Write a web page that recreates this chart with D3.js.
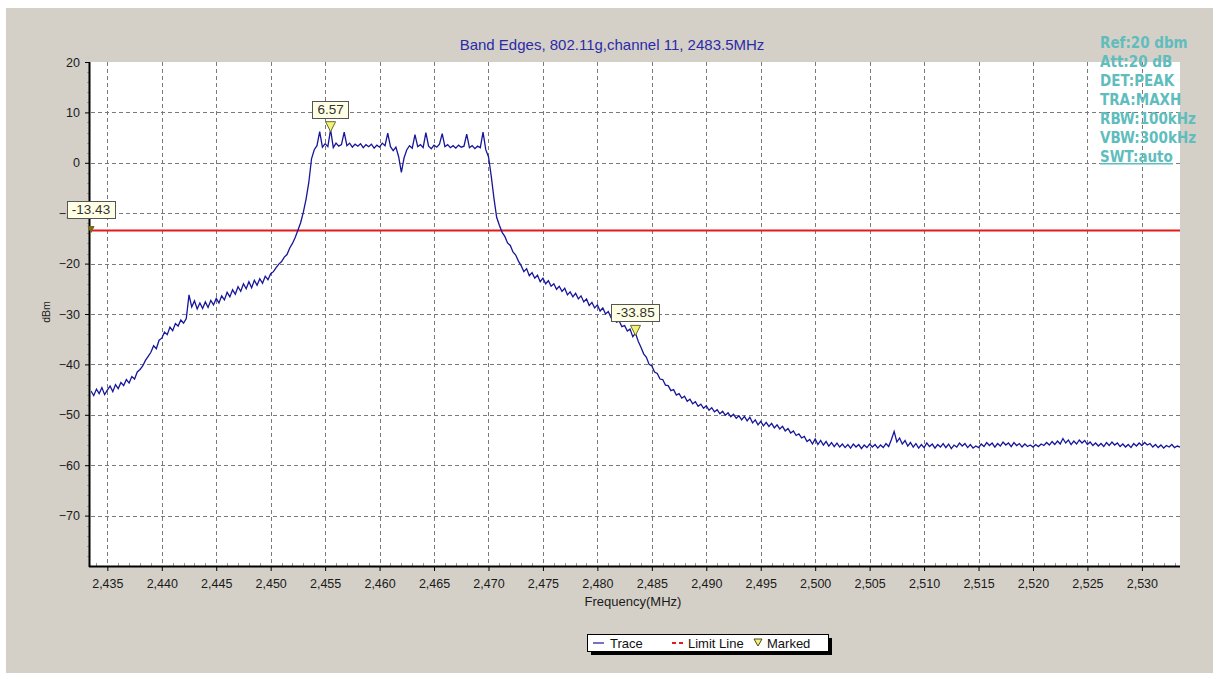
<!DOCTYPE html>
<html>
<head>
<meta charset="utf-8">
<script src="https://cdn.jsdelivr.net/npm/d3@7"></script>
<style>
  html, body { margin: 0; padding: 0; background: #ffffff; }
  svg { display: block; }
  text { font-family: "Liberation Sans", Arial, sans-serif; }
</style>
</head>
<body>
<svg id="chart" width="1216" height="679"></svg>
<script>
// ---------------- data ----------------
const chartTitle = "Band Edges, 802.11g,channel 11, 2483.5MHz";
const xTickValues = [2435, 2440, 2445, 2450, 2455, 2460, 2465, 2470, 2475, 2480, 2485, 2490, 2495, 2500, 2505, 2510, 2515, 2520, 2525, 2530];
const yTickValues = [20, 10, 0, -10, -20, -30, -40, -50, -60, -70];
const xDomain = [2433.5, 2533.5];
const yDomain = [-80, 20];
const limitLineDbm = -13.43;
const settingsLines = ["Ref:20 dbm", "Att:20 dB", "DET:PEAK", "TRA:MAXH", "RBW:100kHz", "VBW:300kHz", "SWT:auto"];

// sweep: start frequency and step (MHz) of the trace points
const traceStartMHz = 2433.5;
const traceStepMHz = 0.25;
const traceDbm = [
  -45.3,-46.2,-44.9,-45.8,-44.6,-46.0,-45.1,-44.3,-45.4,-44.0,-44.8,-43.6,-44.2,-43.0,-43.7,-42.4,-42.9,-41.5,-41.0,-40.3,
  -39.2,-38.4,-37.6,-36.3,-36.9,-35.2,-34.8,-33.6,-34.1,-32.6,-33.3,-31.9,-32.4,-31.2,-31.8,-30.9,-26.2,-28.6,-27.4,-29.0,
  -27.8,-28.9,-27.6,-28.7,-27.3,-28.2,-26.9,-27.8,-26.4,-27.2,-25.7,-26.6,-25.2,-26.1,-24.6,-25.5,-24.0,-25.0,-23.6,-24.8,
  -23.3,-24.3,-23.0,-23.9,-22.5,-23.2,-22.0,-21.6,-20.8,-20.1,-19.6,-18.7,-18.2,-16.9,-16.0,-14.8,-13.4,-11.9,-9.8,-7.2,
  -3.9,0.8,2.6,3.4,6.2,3.1,3.8,3.2,6.57,3.0,3.9,3.3,3.6,6.1,3.4,3.9,3.1,3.7,3.3,3.8,
  3.0,3.6,3.2,3.7,2.9,3.5,3.1,3.9,3.4,5.9,3.2,2.4,3.1,1.2,-1.9,1.0,2.6,3.4,2.9,5.6,
  3.2,3.6,3.0,6.0,3.3,2.8,3.5,3.1,3.7,5.8,3.2,3.6,3.0,3.4,2.9,3.5,3.1,3.3,5.7,3.0,
  3.4,2.8,3.3,3.0,6.1,2.6,1.2,-2.6,-7.0,-10.8,-12.4,-13.8,-14.6,-15.9,-16.4,-17.7,-18.3,-19.5,-20.4,-21.6,
  -21.0,-22.4,-21.8,-22.9,-22.3,-23.6,-22.9,-24.0,-23.4,-24.5,-24.0,-25.1,-24.5,-25.5,-24.9,-26.2,-25.6,-26.6,-25.9,-27.0,
  -26.4,-27.6,-27.0,-28.3,-27.7,-28.8,-28.2,-29.4,-28.8,-30.0,-29.5,-30.7,-30.3,-31.6,-31.4,-32.5,-32.3,-33.4,-33.0,-34.5,
  -33.85,-35.4,-36.6,-37.9,-38.6,-40.0,-40.3,-41.5,-41.8,-42.9,-43.0,-44.1,-44.2,-45.2,-45.0,-46.1,-45.8,-46.7,-46.3,-47.3,
  -46.9,-47.8,-47.4,-48.3,-47.9,-48.7,-48.2,-49.1,-48.6,-49.4,-49.0,-49.8,-49.3,-50.1,-49.6,-50.4,-49.9,-50.7,-50.2,-51.0,
  -50.3,-51.2,-50.5,-51.6,-51.0,-52.0,-51.3,-52.2,-51.5,-52.3,-51.7,-52.6,-52.0,-52.8,-52.3,-53.2,-52.7,-53.6,-53.2,-54.1,
  -53.8,-54.6,-54.3,-55.3,-54.9,-55.8,-54.8,-55.9,-55.1,-56.0,-55.3,-56.2,-55.5,-56.3,-55.6,-56.4,-55.8,-56.5,-55.9,-56.6,
  -55.8,-56.4,-55.9,-56.7,-56.0,-56.5,-55.8,-56.4,-55.9,-56.6,-56.0,-56.5,-55.7,-56.3,-54.9,-53.3,-55.4,-54.6,-55.8,-55.1,
  -56.2,-55.5,-56.4,-55.7,-56.6,-55.9,-56.5,-55.6,-56.3,-55.8,-56.6,-55.9,-56.4,-55.7,-56.5,-55.8,-56.7,-56.0,-56.4,-55.6,
  -56.2,-55.7,-56.5,-55.9,-56.6,-56.2,-56.5,-55.8,-56.3,-55.5,-56.1,-55.6,-56.4,-55.7,-56.2,-55.4,-56.0,-55.6,-56.3,-55.5,
  -56.1,-55.7,-56.4,-55.8,-56.3,-56.0,-56.4,-55.9,-56.3,-55.8,-56.1,-55.5,-56.0,-55.3,-55.9,-55.2,-55.8,-54.7,-55.6,-55.0,
  -55.9,-55.2,-55.8,-55.0,-55.6,-55.1,-55.9,-55.4,-56.1,-55.6,-56.2,-55.7,-56.3,-55.5,-56.1,-55.4,-56.0,-55.6,-56.3,-55.8,
  -56.4,-55.9,-56.5,-55.7,-56.2,-55.6,-56.1,-55.5,-56.0,-55.7,-56.4,-55.9,-56.5,-56.0,-56.6,-56.1,-56.4,-55.9,-56.5,-56.2,
  -56.4
];

// markers
const markerFreqs = [2433.5, 2455.5, 2483.5];
const markerValues = [-13.43, 6.57, -33.85];
const markerLabels = ["-13.43", "6.57", "-33.85"];

// legend
const legendLabels = ["Trace", "Limit Line", "Marked"];

// ---------------- drawing ----------------
const svg = d3.select("#chart");
const plot = { left: 91, right: 1180, top: 62, bottom: 566 };

const x = d3.scaleLinear().domain(xDomain).range([plot.left, plot.right]);
const y = d3.scaleLinear().domain(yDomain).range([plot.bottom, plot.top]);

const traceData = traceDbm.map((v, i) => ({ f: traceStartMHz + i * traceStepMHz, v }));

// background panel
svg.append("rect").attr("x", 6).attr("y", 8).attr("width", 1207).attr("height", 665).attr("fill", "#d4d0c8");
// plot area
svg.append("rect").attr("x", plot.left - 1).attr("y", plot.top).attr("width", plot.right - plot.left + 1)
  .attr("height", plot.bottom - plot.top).attr("fill", "#ffffff");

svg.append("defs").append("clipPath").attr("id", "clip")
  .append("rect").attr("x", plot.left).attr("y", plot.top).attr("width", plot.right - plot.left).attr("height", plot.bottom - plot.top);

// grid
const grid = svg.append("g");
grid.selectAll("line.vg").data(xTickValues).join("line")
  .attr("x1", d => Math.round(x(d)) + 0.5).attr("x2", d => Math.round(x(d)) + 0.5)
  .attr("y1", plot.top).attr("y2", plot.bottom)
  .attr("stroke", "#7a7a7a").attr("stroke-width", 1).attr("stroke-dasharray", "4,3");
grid.selectAll("line.hg").data(yTickValues.filter(d => d < 20)).join("line")
  .attr("x1", plot.left).attr("x2", plot.right)
  .attr("y1", d => Math.round(y(d)) + 0.5).attr("y2", d => Math.round(y(d)) + 0.5)
  .attr("stroke", "#7a7a7a").attr("stroke-width", 1).attr("stroke-dasharray", "4,3");

// minor ticks
const xMinor = d3.range(2434, 2534, 1).filter(d => d % 5 !== 0);
svg.append("g").selectAll("line").data(xMinor).join("line")
  .attr("x1", d => Math.round(x(d)) + 0.5).attr("x2", d => Math.round(x(d)) + 0.5)
  .attr("y1", plot.bottom - 3).attr("y2", plot.bottom)
  .attr("stroke", "#9a9a9a");
const yMinor = d3.range(-78, 20, 2).filter(d => d % 10 !== 0);
svg.append("g").selectAll("line").data(yMinor).join("line")
  .attr("x1", plot.left - 4).attr("x2", plot.left - 1)
  .attr("y1", d => Math.round(y(d)) + 0.5).attr("y2", d => Math.round(y(d)) + 0.5)
  .attr("stroke", "#9a9a9a");

// axes
const xAxis = svg.append("g").attr("transform", `translate(0,${plot.bottom})`)
  .call(d3.axisBottom(x).tickValues(xTickValues).tickFormat(d3.format(",")).tickSize(5).tickPadding(8));
xAxis.select(".domain").remove();
xAxis.selectAll(".tick line").attr("stroke", "#000");
xAxis.selectAll(".tick text").attr("font-size", 12.5).attr("fill", "#1a1a1a")
  .style("font-family", '"Liberation Sans", Arial, sans-serif');

const yAxis = svg.append("g").attr("transform", `translate(${plot.left - 1},0)`)
  .call(d3.axisLeft(y).tickValues(yTickValues).tickSize(5).tickPadding(5));
yAxis.select(".domain").remove();
yAxis.selectAll(".tick line").attr("stroke", "#000");
yAxis.selectAll(".tick text").attr("font-size", 12.5).attr("fill", "#1a1a1a")
  .style("font-family", '"Liberation Sans", Arial, sans-serif');

// axis lines
svg.append("line").attr("x1", plot.left - 1.5).attr("x2", plot.left - 1.5).attr("y1", plot.top).attr("y2", plot.bottom + 1)
  .attr("stroke", "#000").attr("stroke-width", 2);
svg.append("line").attr("x1", plot.left - 2).attr("x2", plot.right).attr("y1", plot.bottom + 0.5).attr("y2", plot.bottom + 0.5)
  .attr("stroke", "#000").attr("stroke-width", 2);

// limit line
svg.append("line").attr("x1", plot.left).attr("x2", plot.right)
  .attr("y1", y(limitLineDbm)).attr("y2", y(limitLineDbm))
  .attr("stroke", "#e21a1a").attr("stroke-width", 2);

// trace
svg.append("path").datum(traceData)
  .attr("clip-path", "url(#clip)")
  .attr("fill", "none").attr("stroke", "#16169a").attr("stroke-width", 1.3)
  .attr("d", d3.line().x(d => x(d.f)).y(d => y(d.v)));

// markers
const markers = markerFreqs.map((f, i) => ({ f, v: markerValues[i], label: markerLabels[i] }));
const mg = svg.append("g");
markers.forEach((m, i) => {
  const px = x(m.f), py = y(m.v);
  const s = i === 0 ? 3 : 5;
  mg.append("path")
    .attr("d", `M${px - s},${py - 2 * s + 2} L${px + s},${py - 2 * s + 2} L${px},${py + 2} Z`)
    .attr("fill", i === 0 ? "#8a6a00" : "#f2f27a").attr("stroke", "#6b6b2a").attr("stroke-width", 1);
});
markers.forEach((m) => {
  const px = x(m.f), py = y(m.v);
  const g = mg.append("g");
  const t = g.append("text").attr("x", px).attr("y", py - 16).attr("text-anchor", "middle")
    .attr("font-size", 13.5).attr("fill", "#333").text(m.label);
  const bb = t.node().getBBox();
  g.insert("rect", "text")
    .attr("x", Math.round(bb.x - 5) + 0.5).attr("y", Math.round(py - 29) + 0.5)
    .attr("width", Math.round(bb.width + 10)).attr("height", 17)
    .attr("fill", "#ffffe6").attr("stroke", "#555").attr("stroke-width", 1);
});

// title
svg.append("text").attr("x", 612).attr("y", 50).attr("text-anchor", "middle")
  .attr("font-size", 15).attr("fill", "#2b2ba8").text(chartTitle);

// settings text
svg.append("g").selectAll("text").data(settingsLines).join("text")
  .attr("x", 1100).attr("y", (d, i) => 48 + i * 19)
  .attr("font-size", 15).attr("font-weight", "bold").attr("fill", "#5fbdbd")
  .style("font-family", '"Liberation Sans Narrow", "Arial Narrow", "DejaVu Sans Condensed", sans-serif')
  .style("font-stretch", "condensed")
  .style("text-decoration", (d, i) => i === settingsLines.length - 1 ? "underline" : "none")
  .text(d => d);

// axis titles
svg.append("text").attr("transform", "translate(50,312) rotate(-90)").attr("text-anchor", "middle")
  .attr("font-size", 10.5).attr("fill", "#1a1a1a").text("dBm");
svg.append("text").attr("x", 633).attr("y", 606).attr("text-anchor", "middle")
  .attr("font-size", 13).attr("fill", "#1a1a1a").text("Frequency(MHz)");

// legend
const lg = svg.append("g");
lg.append("rect").attr("x", 591).attr("y", 638).attr("width", 241).attr("height", 17).attr("fill", "#000");
lg.append("rect").attr("x", 587.5).attr("y", 634.5).attr("width", 241).attr("height", 17)
  .attr("fill", "#fff").attr("stroke", "#000").attr("stroke-width", 1);
lg.append("line").attr("x1", 593).attr("x2", 604).attr("y1", 643).attr("y2", 643).attr("stroke", "#16169a").attr("stroke-width", 1.2);
lg.append("text").attr("x", 610).attr("y", 647.5).attr("font-size", 13).attr("fill", "#111").text(legendLabels[0]);
lg.append("line").attr("x1", 672).attr("x2", 684).attr("y1", 643).attr("y2", 643).attr("stroke", "#e21a1a")
  .attr("stroke-width", 2).attr("stroke-dasharray", "4,3");
lg.append("text").attr("x", 688).attr("y", 647.5).attr("font-size", 13).attr("fill", "#111").text(legendLabels[1]);
lg.append("path").attr("d", "M754,639 L762,639 L758,646 Z").attr("fill", "#f2f27a").attr("stroke", "#4a4a1a");
lg.append("text").attr("x", 767).attr("y", 647.5).attr("font-size", 13).attr("fill", "#111").text(legendLabels[2]);
</script>
</body>
</html>
